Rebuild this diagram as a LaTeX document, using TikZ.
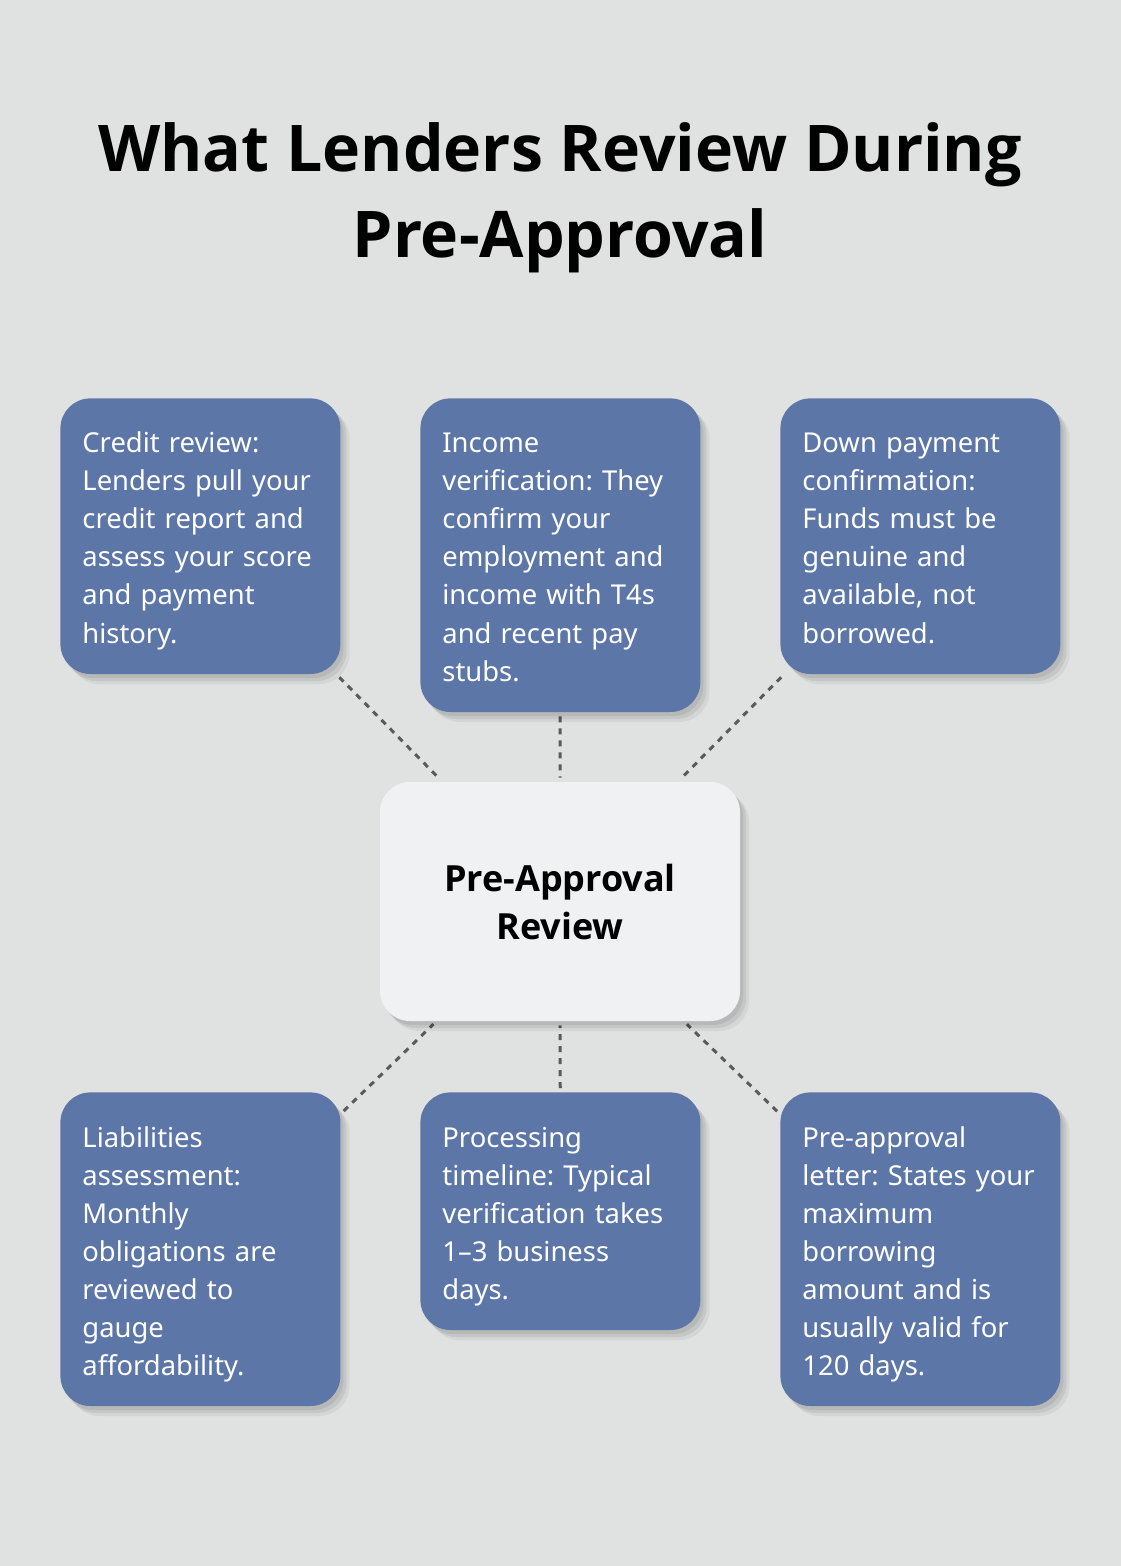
\documentclass[tikz,border=0pt]{standalone}
\usepackage{fontspec}
\setmainfont{Noto Sans}
\newfontfamily\headfont{Open Sans}
\usepackage{tikz}
\usetikzlibrary{shadows}

\definecolor{pagebg}{HTML}{E0E2E1}
\definecolor{boxblue}{HTML}{5C76A8}
\definecolor{centerfill}{HTML}{F0F1F3}
\definecolor{dashgrey}{HTML}{5A5A5A}

\pgfdeclarelayer{bg}
\pgfdeclarelayer{links}
\pgfsetlayers{bg,links,main}
\frenchspacing

\begin{document}
\begin{tikzpicture}[x=0.5pt, y=-0.5pt,
  softshadow/.style={drop shadow={shadow xshift=1.5pt, shadow yshift=-2pt, opacity=0.07, fill=black},
    drop shadow={shadow xshift=3pt, shadow yshift=-3.5pt, opacity=0.07, fill=black},
    drop shadow={shadow xshift=4.5pt, shadow yshift=-5pt, opacity=0.05, fill=black}},
  infobox/.style={anchor=north west, fill=boxblue, text=white, rounded corners=15pt,
    text width=118pt, inner xsep=11pt, inner ysep=14pt, align=left,
    font=\fontsize{13.7}{19}\selectfont, execute at begin node=\strut,
    execute at end node={\strut\endgraf\kern-4.2pt}, softshadow},
  link/.style={draw=dashgrey, line width=1.5pt, dash pattern=on 3pt off 3pt, shorten <=2pt, shorten >=2pt}]
\useasboundingbox (0,0) rectangle (1120,1566);
\begin{pgfonlayer}{bg}
\fill[pagebg] (-20,-20) rectangle (1140,1586);
\end{pgfonlayer}

\node[align=center, font=\headfont\fontsize{32.2}{43}\selectfont\bfseries] (title) at (560,198) {What Lenders Review During\\Pre-Approval};

\node[fill=centerfill, rounded corners=15pt, minimum width=180pt, minimum height=119.5pt, align=center,
  font=\headfont\fontsize{18}{24}\selectfont\bfseries, softshadow] (ctr) at (560,901.5) {Pre-Approval\\Review};

% top row
\node[infobox] (credit) at (60,398) {Credit review:\\Lenders pull your\\credit report and\\assess your score\\and payment\\history.};
\node[infobox] (income) at (420,398) {Income\\verification: They\\confirm your\\employment and\\income with T4s\\and recent pay\\stubs.};
\node[infobox] (down) at (780,398) {Down payment\\confirmation:\\Funds must be\\genuine and\\available, not\\borrowed.};

% bottom row
\node[infobox] (liab) at (60,1092) {Liabilities\\assessment:\\Monthly\\obligations are\\reviewed to\\gauge\\affordability.};
\node[infobox] (proc) at (420,1092) {Processing\\timeline: Typical\\verification takes\\1--3 business\\days.};
\node[infobox] (letter) at (780,1092) {Pre-approval\\letter: States your\\maximum\\borrowing\\amount and is\\usually valid for\\120 days.};

\begin{pgfonlayer}{links}
\foreach \nm in {credit,income,down,liab,proc,letter}
  \draw[link] (\nm) -- (ctr);
\end{pgfonlayer}
\end{tikzpicture}
\end{document}
